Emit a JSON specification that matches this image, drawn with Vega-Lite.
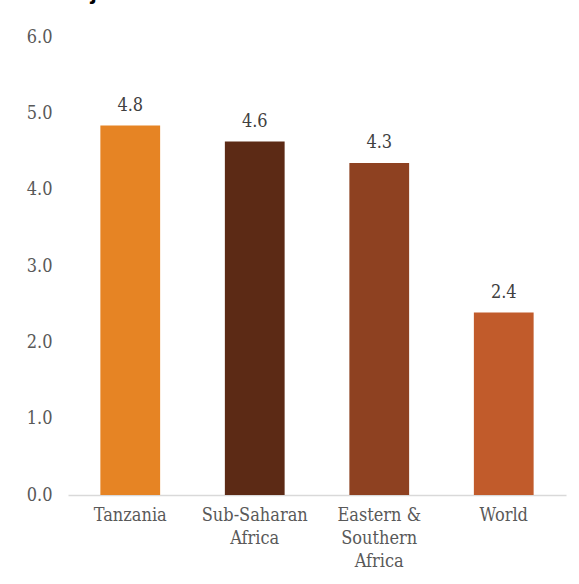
{
  "$schema": "https://vega.github.io/schema/vega-lite/v6.json",
  "width": 498,
  "height": 458,
  "autosize": {"type": "none"},
  "padding": {"left": 68, "top": 37, "right": 13, "bottom": 89},
  "background": "white",
  "title": {"text": "Ujauzito", "anchor": "start", "frame": "group", "orient": "top", "offset": 5, "dx": 5, "baseline": "alphabetic", "font": "Liberation Sans", "fontSize": 24, "fontWeight": "bold", "color": "#000000"},
  "data": {"values": [
    {"region": "Tanzania", "value": 4.84, "label": "4.8", "color": "#E68424"},
    {"region": "Sub-Saharan Africa", "value": 4.63, "label": "4.6", "color": "#5C2A15"},
    {"region": "Eastern & Southern Africa", "value": 4.35, "label": "4.3", "color": "#8E4121"},
    {"region": "World", "value": 2.39, "label": "2.4", "color": "#C15B2B"}
  ]},
  "config": {"view": {"stroke": null}},
  "encoding": {
    "x": {"field": "region", "type": "nominal", "sort": null,
      "scale": {"paddingInner": 0.52, "paddingOuter": 0.26},
      "axis": {"title": null, "labelAngle": 0, "ticks": false, "domainColor": "#D9D9D9", "domainWidth": 1.5,
        "labelFont": "DejaVu Serif Condensed, DejaVu Serif", "labelFontSize": 18, "labelColor": "#595959", "labelPadding": 11, "labelLineHeight": 23,
        "labelExpr": "datum.label == 'Sub-Saharan Africa' ? ['Sub-Saharan', 'Africa'] : datum.label == 'Eastern & Southern Africa' ? ['Eastern &', 'Southern', 'Africa'] : datum.label"}},
    "y": {"field": "value", "type": "quantitative",
      "scale": {"domain": [0, 6], "nice": false},
      "axis": {"title": null, "values": [0, 1, 2, 3, 4, 5, 6], "format": ".1f", "grid": false, "domain": false, "ticks": false,
        "labelFont": "DejaVu Serif Condensed, DejaVu Serif", "labelFontSize": 18, "labelColor": "#595959", "labelPadding": 16}}
  },
  "layer": [
    {"mark": {"type": "bar"}, "encoding": {"color": {"field": "color", "type": "nominal", "scale": null}}},
    {"mark": {"type": "text", "baseline": "alphabetic", "dy": -15, "font": "DejaVu Serif Condensed, DejaVu Serif", "fontSize": 18, "color": "#404040"},
      "encoding": {"text": {"field": "label"}}}
  ]
}
